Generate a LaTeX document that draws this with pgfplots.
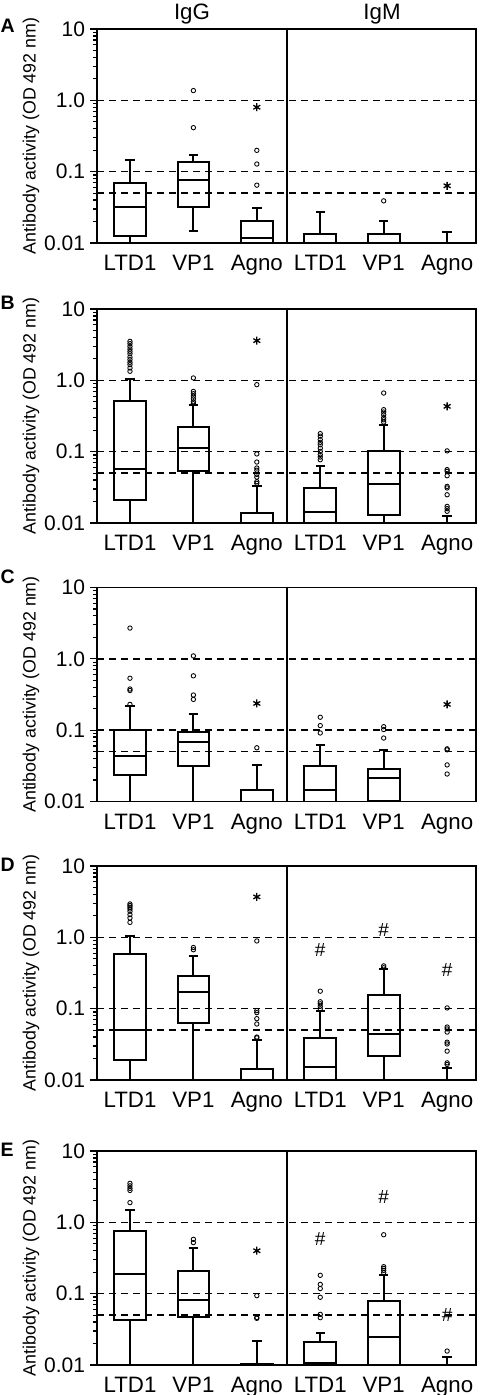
\documentclass[border=0pt]{standalone}
\usepackage{fontspec}
\setmainfont{Liberation Sans}
\usepackage{pgfplots}
\pgfplotsset{compat=1.18}
\usepgfplotslibrary{statistics}

\newcommand{\hashsym}{\fontsize{19}{20}\selectfont\#}
\pgfplotsset{
  panel/.style={
    width=379pt, height=214pt, scale only axis, anchor=south west,
    xmin=0.485, xmax=6.46, ymin=0.01, ymax=10,
    ytick={0.01,0.1,1,10}, yticklabels={0.01,0.1,1.0,10},
    minor ytick={0.02,0.03,0.04,0.05,0.06,0.07,0.08,0.09,0.2,0.3,0.4,0.5,0.6,0.7,0.8,0.9,2,3,4,5,6,7,8,9},
    xtick={1,2,3,4,5,6}, xticklabels={LTD1,VP1,Agno,LTD1,VP1,Agno},
    ytick pos=left, xtick pos=bottom, tick align=outside,
    major tick length=7pt, minor tick length=4.5pt,
    x tick style={draw=none},
    every tick/.style={black, line width=1.2pt},
    axis line style={line width=1.8pt},
    yticklabel style={font=\fontsize{21}{24}\selectfont, anchor=east, inner sep=0pt, xshift=-5pt},
    xticklabel style={font=\fontsize{22.3}{24}\selectfont, anchor=north, inner sep=0pt, yshift=-5pt},
    ylabel={Antibody activity (OD 492 nm)},
    ylabel style={at={(axis description cs:-0.197,0.5)}, anchor=north, font=\fontsize{17.8}{20}\selectfont, inner sep=0pt},
  },
  bxs/.style={black, line width=2pt, solid, boxplot/draw direction=y, boxplot/box extend=0.5, boxplot/whisker extend=0.15},
  outl/.style={only marks, mark=o, mark size=2.2pt, black, line width=0.85pt},
  astr/.style={only marks, mark=asterisk, mark size=4pt, black, line width=1.3pt},
  hsh/.style={only marks, mark=text, text mark={\hashsym}, black},
  dsh/.style={black, line width=1.6pt, dash pattern=on 7pt off 5pt},
}
\newcommand{\bx}[6]{\addplot[bxs, boxplot prepared={draw position=#1, lower whisker=#2, lower quartile=#3, median=#4, upper quartile=#5, upper whisker=#6}] coordinates {};}
\newcommand{\refl}{%
  \addplot[dsh] coordinates {(0.485,1) (6.46,1)};
  \addplot[dsh] coordinates {(0.485,0.1) (6.46,0.1)};
  \addplot[dsh] coordinates {(0.485,0.05) (6.46,0.05)};
  \addplot[black, line width=1.8pt] coordinates {(3.47,0.01) (3.47,10)};}

\begin{document}
\begin{tikzpicture}
\useasboundingbox (0pt,0pt) rectangle (480pt,-1395pt);

% ---------------- A
\begin{axis}[ymode=log, panel, at={(97.3pt,-243pt)}]
\refl
\bx{1}{0.005}{0.0127}{0.032}{0.070}{0.147}
\bx{2}{0.0146}{0.032}{0.0753}{0.138}{0.171}
\bx{3}{0.004}{0.006}{0.0119}{0.0204}{0.0314}
\bx{4}{0.004}{0.005}{0.006}{0.0132}{0.0276}
\bx{5}{0.004}{0.005}{0.006}{0.0132}{0.0204}
\bx{6}{0.002}{0.003}{0.004}{0.005}{0.0143}
\addplot[outl] coordinates {(2,1.37) (2,0.414) (3,0.199) (3,0.128) (3,0.0647) (5,0.039)};
\addplot[astr] coordinates {(3,0.80) (6,0.0634)};
\end{axis}

% ---------------- B
\begin{axis}[ymode=log, panel, at={(97.3pt,-523pt)}]
\refl
\bx{1}{0.004}{0.0212}{0.0578}{0.519}{1.04}
\bx{2}{0.004}{0.0536}{0.1125}{0.222}{0.456}
\bx{3}{0.003}{0.004}{0.005}{0.0138}{0.0334}
\bx{4}{0.004}{0.005}{0.0141}{0.0306}{0.0637}
\bx{5}{0.004}{0.0131}{0.0356}{0.103}{0.239}
\bx{6}{0.002}{0.003}{0.004}{0.005}{0.0127}
\addplot[outl] coordinates {(1,3.52) (1,3.27) (1,3.0) (1,2.75) (1,2.55) (1,2.36) (1,2.12) (1,1.95) (1,1.79) (1,1.66) (1,1.49) (1,1.34)
 (2,1.08) (2,0.70) (2,0.65) (2,0.60) (2,0.55) (2,0.50) (2,0.47)
 (3,0.87) (3,0.093) (3,0.0716) (3,0.059) (3,0.055) (3,0.048) (3,0.044) (3,0.038) (3,0.036)
 (4,0.179) (4,0.165) (4,0.148) (4,0.135) (4,0.125) (4,0.112) (4,0.101) (4,0.091) (4,0.084) (4,0.077)
 (5,0.664) (5,0.388) (5,0.36) (5,0.33) (5,0.30) (5,0.28) (5,0.26)
 (6,0.1026) (6,0.056) (6,0.053) (6,0.046) (6,0.0326) (6,0.031) (6,0.0249) (6,0.0171) (6,0.0159) (6,0.0146)};
\addplot[astr] coordinates {(3,3.6) (6,0.432)};
\end{axis}

% ---------------- C
\begin{axis}[ymode=log, panel, at={(97.3pt,-801.5pt)}]
\refl
\bx{1}{0.004}{0.0233}{0.0432}{0.102}{0.22}
\bx{2}{0.004}{0.0312}{0.0675}{0.0944}{0.171}
\bx{3}{0.003}{0.004}{0.005}{0.0145}{0.0326}
\bx{4}{0.004}{0.005}{0.0146}{0.0312}{0.0612}
\bx{5}{0.0102}{0.0102}{0.0211}{0.0283}{0.052}
\addplot[outl] coordinates {(1,2.70) (1,0.535) (1,0.378) (1,0.36) (1,0.23)
 (2,1.10) (2,0.578) (2,0.311) (2,0.27)
 (3,0.0567)
 (4,0.152) (4,0.116) (4,0.0914)
 (5,0.112) (5,0.102) (5,0.0776)
 (6,0.0548) (6,0.053) (6,0.0326) (6,0.0243)};
\addplot[astr] coordinates {(3,0.237) (6,0.23)};
\end{axis}

% ---------------- D
\begin{axis}[ymode=log, panel, at={(97.3pt,-1080pt)}]
\refl
\bx{1}{0.004}{0.0191}{0.0496}{0.58}{1.05}
\bx{2}{0.004}{0.0637}{0.171}{0.287}{0.555}
\bx{3}{0.003}{0.004}{0.005}{0.0145}{0.0359}
\bx{4}{0.004}{0.005}{0.0153}{0.0383}{0.092}
\bx{5}{0.004}{0.0218}{0.0441}{0.158}{0.356}
\bx{6}{0.002}{0.003}{0.004}{0.005}{0.0148}
\addplot[outl] coordinates {(1,2.94) (1,2.80) (1,2.65) (1,2.5) (1,2.32) (1,2.08) (1,1.87) (1,1.62)
 (2,0.72) (2,0.67)
 (3,0.89) (3,0.094) (3,0.088) (3,0.0725) (3,0.061) (3,0.040) (3,0.039)
 (4,0.176) (4,0.125) (4,0.117) (4,0.108) (4,0.0995)
 (5,0.398) (5,0.375)
 (6,0.1025) (6,0.0553) (6,0.052) (6,0.047) (6,0.0339) (6,0.032) (6,0.0254) (6,0.0174) (6,0.0165)};
\addplot[astr] coordinates {(3,3.69)};
\addplot[hsh] coordinates {(4,0.667) (5,1.25) (6,0.348)};
\end{axis}

% ---------------- E
\begin{axis}[ymode=log, panel, at={(97.3pt,-1365pt)}]
\refl
\bx{1}{0.004}{0.0427}{0.187}{0.756}{1.49}
\bx{2}{0.004}{0.0476}{0.0815}{0.21}{0.442}
\bx{3}{0.003}{0.004}{0.005}{0.0104}{0.0219}
\bx{4}{0.004}{0.005}{0.0106}{0.0208}{0.0284}
\bx{5}{0.004}{0.005}{0.0249}{0.080}{0.181}
\bx{6}{0.002}{0.003}{0.004}{0.005}{0.0128}
\addplot[outl] coordinates {(1,3.52) (1,3.25) (1,3.0) (1,2.8) (1,1.89)
 (2,0.578) (2,0.52)
 (3,0.0938) (3,0.0465) (3,0.0451)
 (4,0.181) (4,0.135) (4,0.118) (4,0.089) (4,0.0513) (4,0.0461)
 (5,0.67) (5,0.239) (5,0.226) (5,0.212) (5,0.197)
 (6,0.0157)};
\addplot[astr] coordinates {(3,0.40)};
\addplot[hsh] coordinates {(4,0.578) (5,2.29) (6,0.0502)};
\end{axis}

\begin{scope}[every node/.style={inner sep=0pt, anchor=base west, font=\bfseries\fontsize{19.5}{22}\selectfont}]
\node at (0.5pt,-32pt) {A};
\node at (0.5pt,-309pt) {B};
\node at (0.5pt,-583pt) {C};
\node at (0.5pt,-871pt) {D};
\node at (0.5pt,-1156pt) {E};
\end{scope}
\node[inner sep=0pt, anchor=base, font=\fontsize{22.3}{24}\selectfont] at (192pt,-19pt) {IgG};
\node[inner sep=0pt, anchor=base, font=\fontsize{22.3}{24}\selectfont] at (382pt,-19pt) {IgM};
\end{tikzpicture}
\end{document}
